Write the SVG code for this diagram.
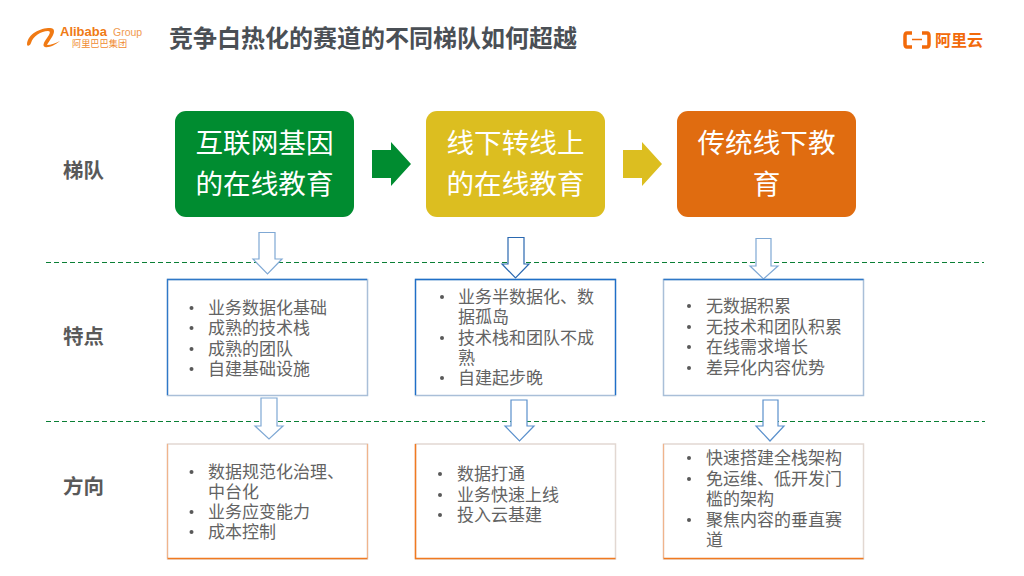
<svg xmlns="http://www.w3.org/2000/svg" width="1024" height="576" viewBox="0 0 1024 576">
<style>
text{font-family:"Noto Sans CJK SC","Liberation Sans",sans-serif}
.side{font-size:20.500px;font-weight:700;fill:#595959}
.head{font-size:27.600px;fill:#fff}
.li{font-size:17px;fill:#636363}
.dot{fill:#595959}
.box{fill:#fff;stroke:#a9bfd8;stroke-width:1.500}
.boxo{fill:#fff;stroke:#e2d8d2;stroke-width:1.500}
.blue{fill:none;stroke:#2f78c8;stroke-width:1.300}
.org{fill:none;stroke:#f07a20;stroke-width:1.500}
.orgl{fill:none;stroke:#f0b48c;stroke-width:1.200}
.arr{fill:#fff;stroke:#7fa8d4;stroke-width:1.200}
.dash{stroke:#0a7f35;stroke-width:1;stroke-dasharray:5 3;fill:none}
</style>
<rect width="1024" height="576" fill="#fff"/>
<g id="logo-alibaba">
<path d="M27 44 C28 34 40 28 50 28 C55 28 55 32 52 37 C50 40 48 43 47 45 C51 45 56 43 60 41 C55 45 49 48 45 47 C42 46 44 42 47 38 C50 34 51 31 48 31 C41 31 33 36 31 43 C30 46 27 47 27 44 Z" fill="#f07a14"/>
<text x="60" y="36" font-size="13" font-weight="700" fill="#f07a14" style="font-family:'Liberation Sans',sans-serif">Alibaba</text>
<text x="113" y="36" font-size="10.500" fill="#f09a50" style="font-family:'Liberation Sans',sans-serif">Group</text>
<text x="72" y="47" font-size="9.200" fill="#f08a30">阿里巴巴集团</text>
</g>
<text id="title" x="169" y="47" font-size="24" font-weight="700" fill="#4a4f55">竞争白热化的赛道的不同梯队如何超越</text>
<g id="logo-aliyun">
<path d="M912 33 H907 Q905 33 905 36 V44 Q905 47 907 47 H912 M922 33 H927 Q929 33 929 36 V44 Q929 47 927 47 H922" fill="none" stroke="#f26a0a" stroke-width="3.500"/>
<path d="M912 39.500 H922" stroke="#f26a0a" stroke-width="1.500"/>
<text x="935" y="46" font-size="16" font-weight="700" fill="#f26a0a">阿里云</text>
</g>
<g id="connectors">
<path class="dash" d="M46 262.500 H984"/>
<path class="dash" d="M46 421.500 H985"/>
<path fill="#008c30" d="M372 150 H391 V142 L411 164 L391 186 V178 H372 Z"/>
<path fill="#dcbe20" d="M623 150 H642 V142 L662 164 L642 186 V178 H623 Z"/>
<path class="arr" d="M259 232.500 H275 V259 H282 L267.500 274 L253 259 H259 Z"/>
<path class="arr" style="stroke:#2a68b0" d="M508 237.500 H524 V264 H529 L515.500 278 L502 264 H508 Z"/>
<path class="arr" d="M756 238.500 H771 V266 H778 L763.500 279 L750 266 H756 Z"/>
<path class="arr" d="M261 398 H277 V426 H283 L269 439 L255 426 H261 Z"/>
<path class="arr" style="stroke:#5a90cc" d="M511 400 H527 V426 H534 L519.500 441 L505 426 H511 Z"/>
<path class="arr" style="stroke:#5a90cc" d="M763 400 H778 V426 H784 L770 441 L756 426 H763 Z"/>
</g>
<g id="label-tier"><text class="side" x="63" y="178">梯队</text></g>
<g id="label-feature"><text class="side" x="63" y="344">特点</text></g>
<g id="label-direction"><text class="side" x="63" y="494">方向</text></g>
<g id="tier-1"><rect x="175" y="111" width="179" height="106" rx="11" fill="#008c30"/>
<text class="head" x="264.500" y="153" text-anchor="middle">互联网基因</text><text class="head" x="264.500" y="194" text-anchor="middle">的在线教育</text></g>
<g id="tier-2"><rect x="426" y="111" width="179" height="106" rx="11" fill="#dcbe20"/>
<text class="head" x="515.500" y="153" text-anchor="middle">线下转线上</text><text class="head" x="515.500" y="194" text-anchor="middle">的在线教育</text></g>
<g id="tier-3"><rect x="677" y="111" width="179" height="106" rx="11" fill="#e06c10"/>
<text class="head" x="766.500" y="153" text-anchor="middle">传统线下教</text><text class="head" x="766.500" y="194" text-anchor="middle">育</text></g>
<g id="feature-1"><rect class="box" x="167.500" y="279.500" width="200" height="116"/><path class="blue" d="M167.500 395 V279.500 H367"/>
<circle class="dot" cx="191.500" cy="308" r="2"/><text class="li" x="208" y="314">业务数据化基础</text>
<circle class="dot" cx="191.500" cy="328" r="2"/><text class="li" x="208" y="334">成熟的技术栈</text>
<circle class="dot" cx="191.500" cy="349" r="2"/><text class="li" x="208" y="355">成熟的团队</text>
<circle class="dot" cx="191.500" cy="369" r="2"/><text class="li" x="208" y="375">自建基础设施</text></g>
<g id="feature-2"><rect class="box" x="415.500" y="279.500" width="200" height="116"/><path class="blue" style="stroke:#1f6fc8" d="M415.500 395 V279.500 H615.500 V395"/>
<circle class="dot" cx="442" cy="297" r="2"/><text class="li" x="458" y="303">业务半数据化、数</text><text class="li" x="458" y="323">据孤岛</text>
<circle class="dot" cx="442" cy="338" r="2"/><text class="li" x="458" y="344">技术栈和团队不成</text><text class="li" x="458" y="364">熟</text>
<circle class="dot" cx="442" cy="378" r="2"/><text class="li" x="458" y="384">自建起步晚</text></g>
<g id="feature-3"><rect class="box" x="663.500" y="279.500" width="200" height="116"/><path class="blue" d="M663.500 279.500 H863.500"/>
<circle class="dot" cx="689" cy="306" r="2"/><text class="li" x="706" y="312">无数据积累</text>
<circle class="dot" cx="689" cy="327" r="2"/><text class="li" x="706" y="333">无技术和团队积累</text>
<circle class="dot" cx="689" cy="347" r="2"/><text class="li" x="706" y="353">在线需求增长</text>
<circle class="dot" cx="689" cy="368" r="2"/><text class="li" x="706" y="374">差异化内容优势</text></g>
<g id="direction-1"><rect class="boxo" x="167.500" y="444" width="200" height="115"/><path class="orgl" d="M167.500 558 V444 M367.500 444 V558"/><path class="org" d="M167.500 558.500 H367.500"/>
<circle class="dot" cx="191.500" cy="472" r="2"/><text class="li" x="208" y="478">数据规范化治理、</text><text class="li" x="208" y="498">中台化</text>
<circle class="dot" cx="191.500" cy="512" r="2"/><text class="li" x="208" y="518">业务应变能力</text>
<circle class="dot" cx="191.500" cy="532" r="2"/><text class="li" x="208" y="538">成本控制</text></g>
<g id="direction-2"><rect class="boxo" x="415.500" y="444" width="200" height="115"/><path class="org" d="M415.500 444 V558.500 H615.500"/>
<circle class="dot" cx="440" cy="474" r="2"/><text class="li" x="457" y="480">数据打通</text>
<circle class="dot" cx="440" cy="495" r="2"/><text class="li" x="457" y="501">业务快速上线</text>
<circle class="dot" cx="440" cy="515" r="2"/><text class="li" x="457" y="521">投入云基建</text></g>
<g id="direction-3"><rect class="boxo" x="663.500" y="444" width="200" height="115"/><path class="orgl" d="M663.500 558 V444"/><path class="org" d="M663.500 558.500 H863.500"/>
<circle class="dot" cx="689" cy="458" r="2"/><text class="li" x="706" y="464">快速搭建全栈架构</text>
<circle class="dot" cx="689" cy="479" r="2"/><text class="li" x="706" y="485">免运维、低开发门</text><text class="li" x="706" y="505">槛的架构</text>
<circle class="dot" cx="689" cy="520" r="2"/><text class="li" x="706" y="526">聚焦内容的垂直赛</text><text class="li" x="706" y="546">道</text></g>
</svg>
